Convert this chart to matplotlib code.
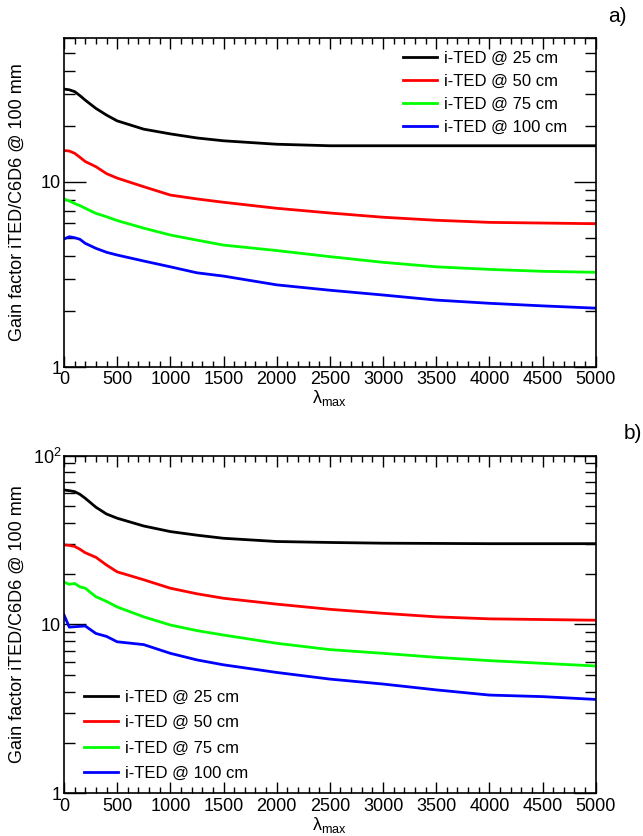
import matplotlib
matplotlib.use('Agg')
import matplotlib.pyplot as plt
import matplotlib.ticker as ticker

plt.rcParams['font.family'] = ['Liberation Sans', 'DejaVu Sans']
plt.rcParams['mathtext.fontset'] = 'custom'
plt.rcParams['mathtext.rm'] = 'Liberation Sans'

# lambda_max sample positions
lam = [0, 50, 100, 150, 200, 300, 400, 500, 750, 1000, 1250, 1500, 2000, 2500,
       3000, 3500, 4000, 4500, 5000]

# panel a)
a_25 = [31.8, 31.5, 30.8, 29.3, 27.7, 25.0, 23.0, 21.4, 19.3, 18.2, 17.3, 16.7, 16.0, 15.7,
        15.7, 15.7, 15.7, 15.7, 15.7]
a_50 = [14.8, 14.7, 14.3, 13.6, 12.9, 12.1, 11.1, 10.5, 9.43, 8.5, 8.1, 7.77, 7.21, 6.8,
        6.45, 6.21, 6.05, 6.0, 5.95]
a_75 = [8.1, 7.9, 7.65, 7.45, 7.21, 6.77, 6.49, 6.19, 5.63, 5.17, 4.85, 4.56, 4.26, 3.95,
        3.68, 3.48, 3.37, 3.29, 3.25]
a_100 = [4.92, 5.06, 5.0, 4.9, 4.66, 4.38, 4.17, 4.03, 3.74, 3.48, 3.23, 3.10, 2.78, 2.6,
         2.45, 2.30, 2.21, 2.14, 2.08]

# panel b)
b_25 = [62.6, 62.0, 61.2, 59.0, 55.9, 49.5, 45.1, 42.6, 38.3, 35.5, 33.8, 32.4, 31.0, 30.6,
        30.3, 30.2, 30.1, 30.1, 30.1]
b_50 = [29.6, 29.4, 29.0, 27.9, 26.6, 25.0, 22.5, 20.5, 18.4, 16.4, 15.2, 14.3, 13.2, 12.3,
        11.65, 11.1, 10.8, 10.7, 10.6]
b_75 = [17.8, 17.3, 17.5, 16.7, 16.4, 14.6, 13.7, 12.7, 11.1, 9.93, 9.2, 8.66, 7.74, 7.1,
        6.75, 6.39, 6.11, 5.89, 5.68]
b_100 = [11.4, 9.65, 9.7, 9.75, 9.8, 8.85, 8.5, 7.9, 7.6, 6.75, 6.17, 5.77, 5.2, 4.75,
         4.44, 4.1, 3.82, 3.74, 3.6]

labels = ['i-TED @ 25 cm', 'i-TED @ 50 cm', 'i-TED @ 75 cm', 'i-TED @ 100 cm']
colors = ['#000000', '#ff0000', '#00ff00', '#0000ff']

fs = 13


def style_axes(ax, ymax, ticklabels):
    ax.set_xlim(0, 5000)
    ax.set_yscale('log')
    ax.set_ylim(1, ymax)
    ax.xaxis.set_major_locator(ticker.MultipleLocator(500))
    ax.xaxis.set_minor_locator(ticker.MultipleLocator(100))
    ax.yaxis.set_major_locator(ticker.FixedLocator([1, 10, 100]))
    ax.yaxis.set_major_formatter(ticker.FixedFormatter(ticklabels))
    ax.yaxis.set_minor_locator(ticker.LogLocator(base=10, subs=range(2, 10)))
    ax.yaxis.set_minor_formatter(ticker.NullFormatter())
    ax.tick_params(axis='both', which='both', direction='in', top=True, right=True,
                   labelsize=fs, width=1)
    ax.tick_params(axis='x', which='major', length=8, pad=3)
    ax.tick_params(axis='x', which='minor', length=4)
    ax.tick_params(axis='y', which='major', length=16, pad=2)
    ax.tick_params(axis='y', which='minor', length=8)
    for s in ax.spines.values():
        s.set_linewidth(1.2)
    ax.set_ylabel('Gain factor iTED/C6D6 @ 100 mm', fontsize=fs)
    ax.yaxis.set_label_coords(-0.072, 0.5)
    ax.set_xlabel(r'λ$_{\mathrm{max}}$', fontsize=fs, labelpad=0)


fig = plt.figure(figsize=(6.43, 8.36), dpi=100)
ax1 = fig.add_axes([0.0995, 0.561, 0.827, 0.3935])
ax2 = fig.add_axes([0.0995, 0.051, 0.827, 0.404])

for ys, lab, c in zip([a_25, a_50, a_75, a_100], labels, colors):
    ax1.plot(lam, ys, color=c, lw=2, label=lab)
for ys, lab, c in zip([b_25, b_50, b_75, b_100], labels, colors):
    ax2.plot(lam, ys, color=c, lw=2, label=lab)

style_axes(ax1, 60, ['1', '10', ''])
style_axes(ax2, 100, ['1', '10', r'10$^{\mathrm{2}}$'])

ax1.legend(loc='upper left', bbox_to_anchor=(0.637, 0.962), frameon=False, fontsize=12,
           handlelength=2.05, handletextpad=0.42, labelspacing=0.48, borderpad=0,
           borderaxespad=0)
ax2.legend(loc='lower left', bbox_to_anchor=(0.0376, 0.037), frameon=False, fontsize=12,
           handlelength=2.05, handletextpad=0.42, labelspacing=0.62, borderpad=0,
           borderaxespad=0)

fig.text(0.975, 0.980, 'a)', fontsize=15, ha='right', va='center')
fig.text(0.998, 0.482, 'b)', fontsize=15, ha='right', va='center')

plt.savefig('out.png', dpi=100)
